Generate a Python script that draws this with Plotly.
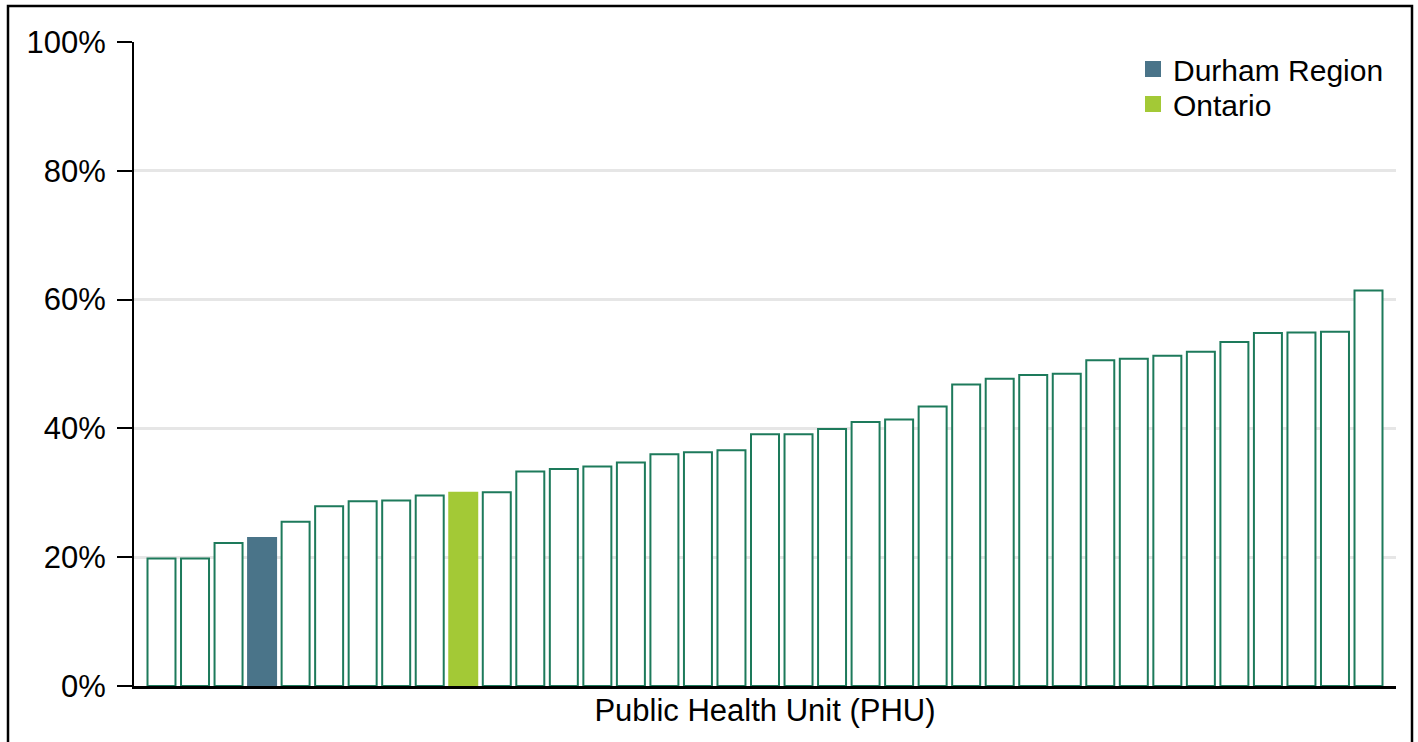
import plotly.graph_objects as go

# ---- data ----
categories = [
    "PHU 01", "PHU 02", "PHU 03", "Durham Region", "PHU 05", "PHU 06", "PHU 07",
    "PHU 08", "PHU 09", "Ontario", "PHU 11", "PHU 12", "PHU 13", "PHU 14",
    "PHU 15", "PHU 16", "PHU 17", "PHU 18", "PHU 19", "PHU 20", "PHU 21",
    "PHU 22", "PHU 23", "PHU 24", "PHU 25", "PHU 26", "PHU 27", "PHU 28",
    "PHU 29", "PHU 30", "PHU 31", "PHU 32", "PHU 33", "PHU 34", "PHU 35",
    "PHU 36", "PHU 37",
]
values = [
    19.8, 19.8, 22.2, 23.0, 25.5, 27.9, 28.7, 28.8, 29.6, 30.0, 30.1, 33.3,
    33.7, 34.1, 34.7, 36.0, 36.3, 36.6, 39.1, 39.1, 39.9, 41.0, 41.4, 43.4,
    46.8, 47.7, 48.3, 48.5, 50.6, 50.8, 51.3, 51.9, 53.4, 54.8, 54.9, 55.0,
    61.4,
]
highlight_names = ["Durham Region", "Ontario"]
y_ticks = [0, 20, 40, 60, 80, 100]
x_title = "Public Health Unit (PHU)"

# ---- styles ----
OUTLINE = "#1d7a5b"
HIGHLIGHT_COLORS = {"Durham Region": "#4a7489", "Ontario": "#a3c936"}
FONT = "Liberation Sans, Arial, sans-serif"
BAR_W = 0.835

other_x = [c for c in categories if c not in highlight_names]
other_y = [v for c, v in zip(categories, values) if c not in highlight_names]

fig = go.Figure()
fig.add_trace(go.Bar(
    x=other_x, y=other_y, width=BAR_W,
    marker=dict(color="white", line=dict(color=OUTLINE, width=2)),
    showlegend=False, hoverinfo="x+y",
))
for name in highlight_names:
    idx = categories.index(name)
    col = HIGHLIGHT_COLORS[name]
    fig.add_trace(go.Bar(
        x=[name], y=[values[idx]], width=BAR_W,
        marker=dict(color=col, line=dict(color=col, width=2)),
        showlegend=False, name=name,
    ))

PL, PR, PT, PB = 134, 1396, 42, 686
W, H = 1418, 742
pw, ph = PR - PL, PB - PT

def px_x(x):
    return (x - PL) / pw

def px_y(y):
    return (PB - y) / ph

# legend entries (one legend each, for exact placement) with larger swatches
legend_centers = {"Durham Region": 69, "Ontario": 104}
legend_ids = {"Durham Region": "legend", "Ontario": "legend2"}
for name in highlight_names:
    fig.add_trace(go.Scatter(
        x=[None], y=[None], mode="markers", name=name,
        legend=legend_ids[name],
        marker=dict(symbol="square", size=18, color=HIGHLIGHT_COLORS[name]),
    ))

legend_common = dict(
    x=px_x(1133), xanchor="left", yanchor="middle",
    bgcolor="rgba(0,0,0,0)", font=dict(size=30, family=FONT, color="black"),
    itemwidth=30,
)

fig.update_layout(
    width=W, height=H,
    margin=dict(l=PL, r=W - PR, t=PT, b=H - PB, pad=0),
    barmode="overlay",
    plot_bgcolor="white", paper_bgcolor="white",
    font=dict(family=FONT, size=30, color="black"),
    showlegend=True,
    legend=dict(y=px_y(legend_centers["Durham Region"]), **legend_common),
    legend2=dict(y=px_y(legend_centers["Ontario"]), **legend_common),
    xaxis=dict(
        type="category", categoryorder="array", categoryarray=categories,
        range=[-0.82, len(categories) - 1 + 0.82],
        showticklabels=False, ticks="", showgrid=False, zeroline=False,
        showline=True, linecolor="black", linewidth=3,
        title=dict(text=x_title, font=dict(size=31, family=FONT), standoff=12),
    ),
    yaxis=dict(
        range=[0, 100], tickmode="array", tickvals=y_ticks,
        ticktext=[f"{t}%" for t in y_ticks],
        ticks="outside", ticklen=15, tickwidth=2, tickcolor="black",
        ticklabelstandoff=5,
        showline=True, linecolor="black", linewidth=2,
        showgrid=True, gridcolor="#e6e6e6", gridwidth=2.5,
        zeroline=False, tickfont=dict(size=31, family=FONT),
    ),
    shapes=[dict(
        type="rect", xref="paper", yref="paper",
        x0=px_x(8), x1=px_x(1412), y0=px_y(760), y1=px_y(6),
        line=dict(color="black", width=2.5), fillcolor="rgba(0,0,0,0)",
        layer="above",
    )],
)

fig.write_html(
    "out.html",
    config={"displayModeBar": False},
    post_script="document.body.style.margin='0';document.body.style.overflow='hidden';",
)
